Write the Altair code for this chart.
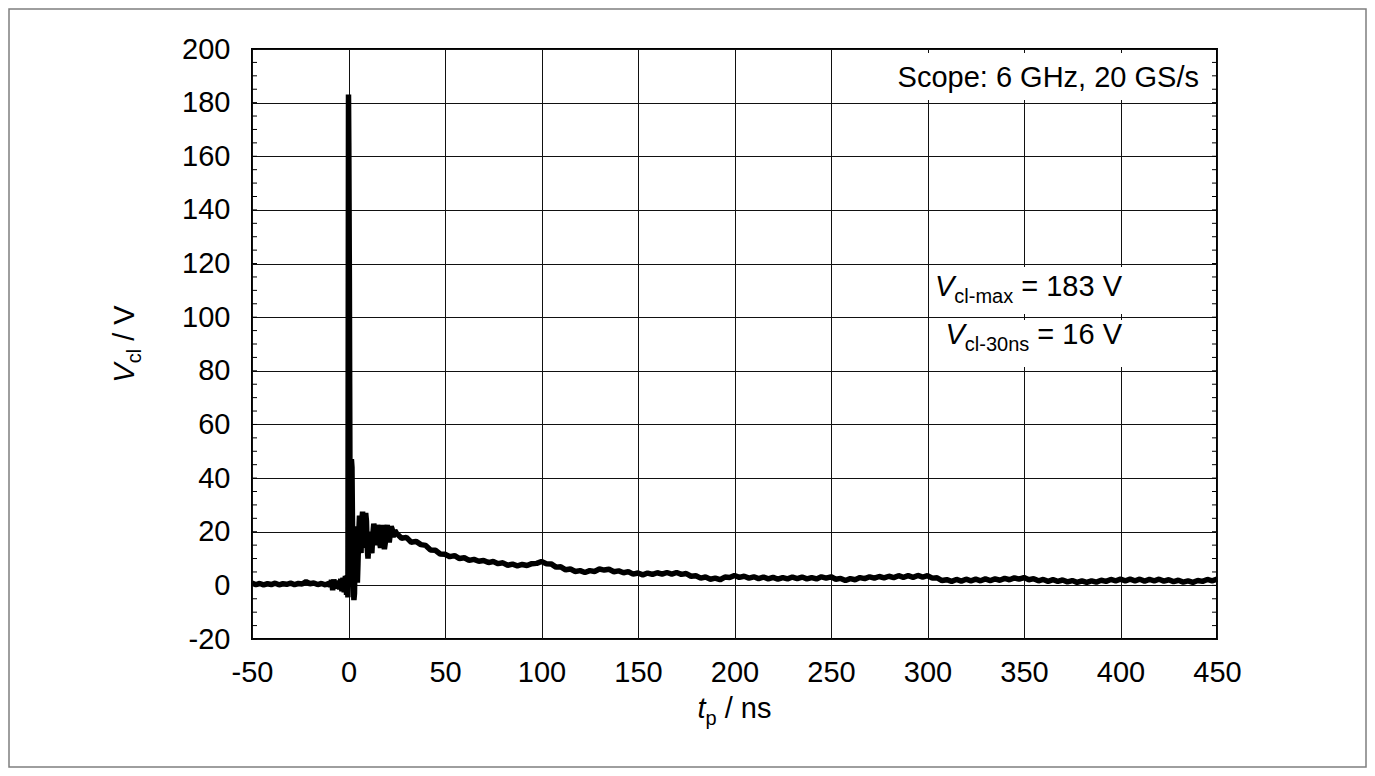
import altair as alt
import pandas as pd

FONT = "Liberation Sans"

# ---------------- data ----------------
t_pre = [-50, -48, -46, -44, -42, -40, -38, -36, -34, -32, -30, -28, -26, -24,
         -22, -20, -18, -16, -14, -12, -10]
v_pre = [0.8, 0.3, 0.7, 0.2, 0.6, 0.3, 0.8, 0.2, 0.6, 0.4, 0.8, 0.3, 0.7, 0.5,
         1.4, 0.6, 0.9, 0.3, 0.7, 0.2, 0.8]

t_trig = [-9.4, -8.8, -8.2, -7.6, -7.0, -6.4, -5.8, -5.2, -4.6, -4.0, -3.4,
          -2.8, -2.2, -1.6, -1.0, -0.6]
v_trig = [-0.5, 2.0, -1.8, 2.2, -1.2, 1.5, -1.0, 1.8, -1.5, 2.4, -2.2,
          2.8, -2.6, 3.5, -3.5, 3.8]

t_spike = [-0.3, 0.0, 0.15, 0.3, 0.45, 0.6, 0.8, 1.0, 1.2, 1.5, 1.8, 2.1, 2.4,
           2.8, 3.1, 3.4, 3.7, 4.0, 4.3, 4.6, 4.9, 5.3, 5.7, 6.1, 6.5, 6.9,
           7.3, 7.7, 8.1, 8.5, 8.9, 9.3, 9.7, 10.1, 10.6, 11.1, 11.6, 12.1,
           12.6, 13.1, 13.6, 14.1, 14.6, 15.1, 15.6, 16.1, 16.6, 17.1, 17.6,
           18.1, 18.6, 19.1, 19.6, 20.1, 20.6, 21.1, 21.6, 22.1, 22.6, 23.1,
           24.0]
v_spike = [-4.5, 183, 165, 140, 113, 75, 30, 12, 22, 47, 44, 20, 3,
           -5.5, -3, 10, 22, 16, 5, 1, 8, 19, 26, 18, 12, 24,
           27.5, 22, 14, 20, 27, 24, 14, 10, 16, 20, 14, 12,
           19, 23, 20, 15, 17, 22.5, 21, 16, 14, 20, 22.5,
           18, 13.5, 16, 21, 22.5, 19, 16, 19, 22, 21, 18,
           20.5]

# tail sampled every 2.5 ns from 25 ns to 450 ns
v_tail = [
    19.3, 17.6, 17.9, 16.1, 16.4, 15.2, 14.9, 13.2, 13.1, 11.7,
    11.6, 10.7, 11.1, 10.0, 10.3, 9.3, 9.7, 9.0, 9.3, 8.5,
    8.9, 8.1, 8.4, 7.5, 7.9, 7.3, 7.8, 7.4, 8.1, 8.2,
    8.9, 8.1, 8.0, 6.8, 6.9, 5.8, 6.1, 5.2, 5.5, 4.8,
    5.5, 5.2, 6.1, 5.7, 6.0, 5.1, 5.4, 4.7, 5.1, 4.2,
    4.6, 3.9, 4.6, 4.1, 4.7, 4.2, 4.8, 4.2, 4.8, 4.1,
    4.4, 3.4, 3.6, 2.7, 3.1, 2.3, 2.7, 2.1, 3.1, 2.9,
    3.7, 3.0, 3.4, 2.7, 3.2, 2.5, 3.1, 2.4, 3.0, 2.3,
    2.9, 2.4, 3.1, 2.5, 3.1, 2.4, 2.9, 2.4, 3.2, 2.7,
    3.2, 2.3, 2.6, 1.8, 2.5, 2.1, 2.9, 2.5, 3.2, 2.7,
    3.3, 2.8, 3.4, 2.9, 3.6, 3.0, 3.6, 3.0, 3.7, 3.1,
    3.6, 2.7, 2.8, 1.8, 2.1, 1.5, 2.2, 1.6, 2.3, 1.7,
    2.3, 1.7, 2.4, 1.8, 2.4, 1.9, 2.6, 2.1, 2.8, 2.3,
    2.9, 2.1, 2.5, 1.7, 2.2, 1.5, 2.1, 1.5, 2.0, 1.3,
    1.8, 1.1, 1.7, 1.1, 1.7, 1.2, 1.9, 1.5, 2.2, 1.7,
    2.3, 1.7, 2.3, 1.7, 2.3, 1.6, 2.2, 1.7, 2.3, 1.6,
    2.1, 1.4, 1.9, 1.2, 1.7, 1.1, 1.8, 1.5, 2.2, 1.7,
    2.3,
]
t_tail = [25 + 2.5 * i for i in range(len(v_tail))]

x_ticks = [-50, 0, 50, 100, 150, 200, 250, 300, 350, 400, 450]
y_ticks = [-20, 0, 20, 40, 60, 80, 100, 120, 140, 160, 180, 200]
y_minor = list(range(-20, 201, 5))

scope_text = "Scope: 6 GHz, 20 GS/s"
vmax_parts = ["V", "cl-max", " = 183 V"]
v30_parts = ["V", "cl-30ns", " = 16 V"]
xtitle_parts = ["t", "p", " / ns"]
ytitle_parts = ["V", "cl", " / V"]

# ---------------- layout ----------------
W, H = 965, 590
FS, SFS = 29, 20
SUB = 7

AW = {" ": 278, "=": 584, "-": 333, "/": 278, ":": 278, ",": 278, "V": 667,
      "c": 500, "l": 222, "m": 833, "a": 556, "x": 500, "n": 556, "s": 500,
      "t": 278, "p": 556, "S": 667, "o": 556, "e": 556, "G": 778, "H": 722,
      "z": 500}


def tw(s, size):
    return sum(AW.get(ch, 556) for ch in s) * size / 1000.0


df = pd.DataFrame({
    "t": t_pre + t_trig + t_spike + t_tail,
    "v": v_pre + v_trig + v_spike + v_tail,
})

xs = alt.Scale(domain=[-50, 450], nice=False, zero=False)
ys = alt.Scale(domain=[-20, 200], nice=False, zero=False)

axis_common = dict(grid=True, gridColor="#111111", gridWidth=1, gridOpacity=1,
                   tickSize=0, domain=False, labelFont=FONT, labelFontSize=FS,
                   labelColor="black", labelFlush=False, labelOverlap=False,
                   labelExpr="'' + datum.value", title=None)

line = alt.Chart(df).mark_line(color="black", strokeWidth=5.5,
                               strokeJoin="bevel").encode(
    x=alt.X("t:Q", scale=xs,
            axis=alt.Axis(values=x_ticks, labelPadding=19, **axis_common)),
    y=alt.Y("v:Q", scale=ys,
            axis=alt.Axis(values=y_ticks, labelPadding=22, **axis_common)),
)

minor_df = pd.DataFrame({"y": y_minor})
minor_left = alt.Chart(minor_df).mark_rule(color="black", strokeWidth=1).encode(
    y=alt.Y("y:Q", scale=ys), x=alt.value(0), x2=alt.value(5))
minor_right = alt.Chart(minor_df).mark_rule(color="black", strokeWidth=1).encode(
    y=alt.Y("y:Q", scale=ys), x=alt.value(W - 5), x2=alt.value(W))


def box(x1, x2, y1, y2):
    return alt.Chart(pd.DataFrame({"k": [1]})).mark_rect(
        fill="white").encode(
        x=alt.value(x1), x2=alt.value(x2), y=alt.value(y1), y2=alt.value(y2))


def label(txt, x, y, size=FS, italic=False, align="left", angle=0):
    m = dict(align=align, baseline="alphabetic", font=FONT, fontSize=size,
             color="black")
    if italic:
        m["fontStyle"] = "italic"
    if angle:
        m["angle"] = angle
    return alt.Chart(pd.DataFrame({"s": [txt]})).mark_text(**m).encode(
        text="s:N", x=alt.value(x), y=alt.value(y))


def lead(s, size):
    """width of leading blanks (SVG collapses them), and the stripped text"""
    stripped = s.lstrip(" ")
    return tw(s[: len(s) - len(stripped)], size), stripped


def sub_label(parts, x_right, base):
    widths = [tw(parts[0], FS), tw(parts[1], SFS), tw(parts[2], FS)]
    x0 = x_right - sum(widths)
    off, rest = lead(parts[2], FS)
    return [
        label(parts[0], x0, base, italic=True),
        label(parts[1], x0 + widths[0], base + SUB, size=SFS),
        label(rest, x0 + widths[0] + widths[1] + off, base),
    ]


layers = [line, minor_left, minor_right]

# annotation boxes
layers.append(box(640, 958, 4, 51))
layers.append(box(678, 880, 218, 265))
layers.append(box(678, 880, 271, 318))
layers.append(label(scope_text, 947, 38, align="right"))
layers += sub_label(vmax_parts, 870, 247)
layers += sub_label(v30_parts, 870, 295)

# x-axis title
xw = [tw(xtitle_parts[0], FS), tw(xtitle_parts[1], SFS), tw(xtitle_parts[2], FS)]
xt0 = W / 2 - sum(xw) / 2
xbase = 669
xoff, xrest = lead(xtitle_parts[2], FS)
layers.append(label(xtitle_parts[0], xt0, xbase, italic=True))
layers.append(label(xtitle_parts[1], xt0 + xw[0], xbase + SUB, size=SFS))
layers.append(label(xrest, xt0 + xw[0] + xw[1] + xoff, xbase))

# y-axis title (rotated, reading upward)
yw = [tw(ytitle_parts[0], FS), tw(ytitle_parts[1], SFS), tw(ytitle_parts[2], FS)]
yt0 = H / 2 + sum(yw) / 2
ybase = -118
yoff, yrest = lead(ytitle_parts[2], FS)
layers.append(label(ytitle_parts[0], ybase, yt0, italic=True, angle=270))
layers.append(label(ytitle_parts[1], ybase + SUB, yt0 - yw[0], size=SFS, angle=270))
layers.append(label(yrest, ybase, yt0 - yw[0] - yw[1] - yoff, angle=270))

# outer grey frame
frame = alt.Chart(pd.DataFrame({"k": [1]})).mark_rect(
    fillOpacity=0, fill="white", stroke="#7f7f7f", strokeWidth=1.5).encode(
    x=alt.value(-243), x2=alt.value(1114), y=alt.value(-40), y2=alt.value(718))
layers.append(frame)

chart = alt.layer(*layers).properties(
    width=W, height=H,
    padding={"left": 244, "top": 41, "right": 150, "bottom": 129},
    autosize=alt.AutoSizeParams(type="none"),
    background="white",
).configure_view(stroke="black", strokeWidth=2)

chart.save("out.html", embed_options={"renderer": "svg", "actions": False})
